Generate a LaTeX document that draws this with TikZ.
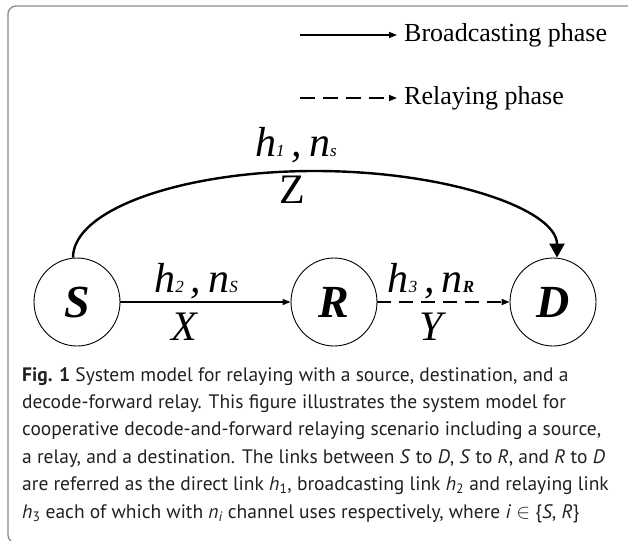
\documentclass[tikz,border=0pt]{standalone}
\usepackage{fontspec}
\setmainfont{Liberation Serif}
\newfontfamily\capfont{PT Sans}
\usetikzlibrary{arrows.meta,shapes.geometric}
\definecolor{captext}{HTML}{231F20}
\definecolor{framegray}{HTML}{8A8A8A}
\begin{document}
\begin{tikzpicture}[x=1pt,y=-1pt,
  nodecirc/.style={draw, ellipse, line width=0.9pt, minimum width=86pt, minimum height=88pt, inner sep=0pt,
    font=\fontsize{46}{46}\selectfont\bfseries\itshape},
  thinarrow/.style={line width=1.3pt, -{Triangle[length=8pt,width=6pt]}},
  dasharrow/.style={line width=1.6pt, dash pattern=on 14pt off 8pt, -{Triangle[length=8pt,width=6pt]}},
  bigarrow/.style={line width=2.4pt, -{Triangle[length=14pt,width=15pt]}},
  lbl/.style={font=\fontsize{42}{42}\selectfont\itshape, inner sep=0pt},
  legtext/.style={font=\fontsize{26}{26}\selectfont, inner sep=0pt, anchor=west},
]
\useasboundingbox (0,0) rectangle (628,540);
% frame
\draw[framegray, line width=1.3pt, rounded corners=8pt] (640,6) -- (8,6) -- (8,543) -- (640,543);

% legend
\coordinate (l1a) at (300,35);
\coordinate (l1b) at (397,35);
\coordinate (l2a) at (300,98);
\coordinate (l2b) at (397,98);
\draw[line width=1.4pt, -{Triangle[length=8pt,width=6pt]}] (l1a) -- (l1b);
\draw[line width=1.6pt, dash pattern=on 15pt off 8pt, -{Triangle[length=8pt,width=6pt]}] (l2a) -- (l2b);
\node[legtext] (t1) at (404,35) {Broadcasting phase};
\node[legtext] (t2) at (404,98) {Relaying phase};

% nodes
\node[nodecirc] (S) at (77,302) {S};
\node[nodecirc] (R) at (334,302) {R};
\node[nodecirc] (D) at (553,302) {D};

% edges
\draw[thinarrow] (S.east) -- (R.west);
\draw[dasharrow] (R.east) -- (D.west);
\coordinate (top) at (315,171);
\draw[bigarrow] ([xshift=-4pt]S.north) .. controls +(0,-48) and +(-133,0) .. (top)
  .. controls +(133,0) and +(0,-48) .. ([xshift=4pt]D.north);

% labels
\node[lbl, anchor=base] (h1) at (296,157) {h{\fontsize{17}{17}\selectfont 1}\,,\,n{\fontsize{17}{17}\selectfont s}};
\node[font=\fontsize{42}{42}\selectfont, inner sep=0pt, anchor=base] (Z) at (292,203) {Z};
\node[lbl, anchor=base] (h2) at (196,292) {h{\fontsize{17}{17}\selectfont 2}\,,\,n{\fontsize{17}{17}\selectfont S}};
\node[lbl, anchor=base] (X) at (184,340) {X};
\node[lbl, anchor=base] (h3) at (431,292) {h{\fontsize{17}{17}\selectfont 3}\,,\,n{\fontsize{17}{17}\selectfont\bfseries R}};
\node[lbl, anchor=base] (Y) at (431,340) {Y};

% caption
\node[anchor=base west, inner sep=0pt, text=captext] (cap) at (22,381) {\parbox[t]{600pt}{\capfont\fontsize{19.5}{27.4}\selectfont\raggedright
\textbf{Fig. 1} System model for relaying with a source, destination, and a\\
decode-forward relay. This figure illustrates the system model for\\
cooperative decode-and-forward relaying scenario including a source,\\
a relay, and a destination. The links between \textit{S} to \textit{D}, \textit{S} to \textit{R}, and \textit{R} to \textit{D}\\
are referred as the direct link \textit{h}\textsubscript{1}, broadcasting link \textit{h}\textsubscript{2} and relaying link\\
\textit{h}\textsubscript{3} each of which with \textit{n\textsubscript{i}} channel uses respectively, where \textit{i} $\in$ \{\textit{S}, \textit{R}\}}};
\end{tikzpicture}
\end{document}
